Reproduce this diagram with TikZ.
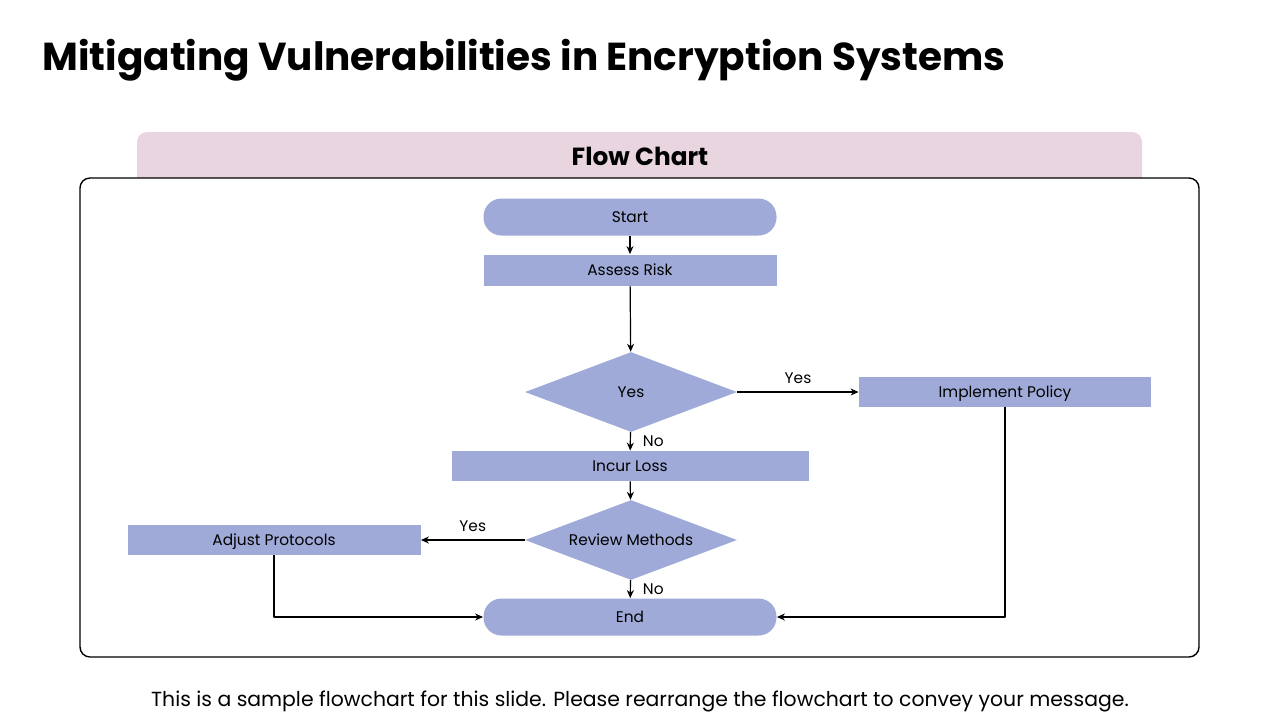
\documentclass[tikz,border=0pt]{standalone}
\usepackage{fontspec}
\setmainfont{Poppins}
\usetikzlibrary{arrows.meta,shapes.geometric,positioning}
\definecolor{boxblue}{RGB}{159,170,216}
\definecolor{bandpink}{RGB}{232,213,224}
\tikzset{
  every picture/.style={line join=round, >={Stealth[length=4pt,width=3.5pt]}},
  stepbox/.style={rectangle, fill=boxblue, minimum width=146.5pt, minimum height=15.5pt, inner sep=0pt, text height=7.2pt, text depth=1.6pt, font=\fontsize{7.7}{9}\selectfont},
  termbox/.style={stepbox, rounded corners=9pt, minimum height=18.5pt},
  decide/.style={diamond, aspect=2.65, fill=boxblue, minimum width=106pt, minimum height=40pt, inner sep=0pt, text height=7.2pt, text depth=1.6pt, font=\fontsize{7.7}{9}\selectfont},
  flow/.style={->, line width=0.6pt},
  lbl/.style={font=\fontsize{7.7}{9}\selectfont, inner sep=2pt},
}

\begin{document}
\begin{tikzpicture}[x=0.5pt, y=-0.5pt]
\useasboundingbox (0,0) rectangle (1280,720);
\fill[white] (0,0) rectangle (1280,720);
% title and panel
\node[anchor=base west, inner sep=0pt, font=\fontsize{19.5}{22}\bfseries\selectfont] (title) at (42,70) {Mitigating Vulnerabilities in Encryption Systems};
\fill[bandpink, rounded corners=5pt] (137,132) rectangle (1142,200);
\draw[line width=0.7pt, rounded corners=5pt, fill=white] (80,178) rectangle (1199,657);
\node[font=\fontsize{12.4}{14}\bfseries\selectfont] (head) at (640,156) {Flow Chart};
% boxes
\node[termbox] (start) at (630,217) {Start};
\node[stepbox] (risk) at (630,270) {Assess Risk};
\node[decide] (ask) at (631,392) {Yes};
\node[stepbox, minimum width=146pt, minimum height=15pt] (policy) at (1005,392) {Implement Policy};
\node[stepbox, minimum width=178.5pt, minimum height=15pt] (loss) at (630,466) {Incur Loss};
\node[decide] (review) at (631,540) {Review Methods};
\node[stepbox, minimum height=15pt] (adjust) at (274,540) {Adjust Protocols};
\node[termbox] (end) at (630,617) {End};
% connectors
\draw[flow] (start) -- (risk);
\draw[flow] (risk) -- (ask);
\draw[flow] (ask) -- node[lbl, above, yshift=2pt] (y1) {Yes} (policy);
\draw[flow] (ask) -- node[lbl, right, xshift=4pt] (n1) {No} (loss);
\draw[flow] (loss) -- (review);
\draw[flow] (review) -- node[lbl, above, yshift=2pt] (y2) {Yes} (adjust);
\draw[flow] (review) -- node[lbl, right, xshift=4pt] (n2) {No} (end);
\draw[flow] (adjust.south) |- (end.west);
\draw[flow] (policy.south) |- (end.east);
% note
\node[font=\fontsize{10.2}{12}\selectfont] (note) at (640,701) {This is a sample flowchart for this slide. Please rearrange the flowchart to convey your message.};
\end{tikzpicture}
\end{document}
